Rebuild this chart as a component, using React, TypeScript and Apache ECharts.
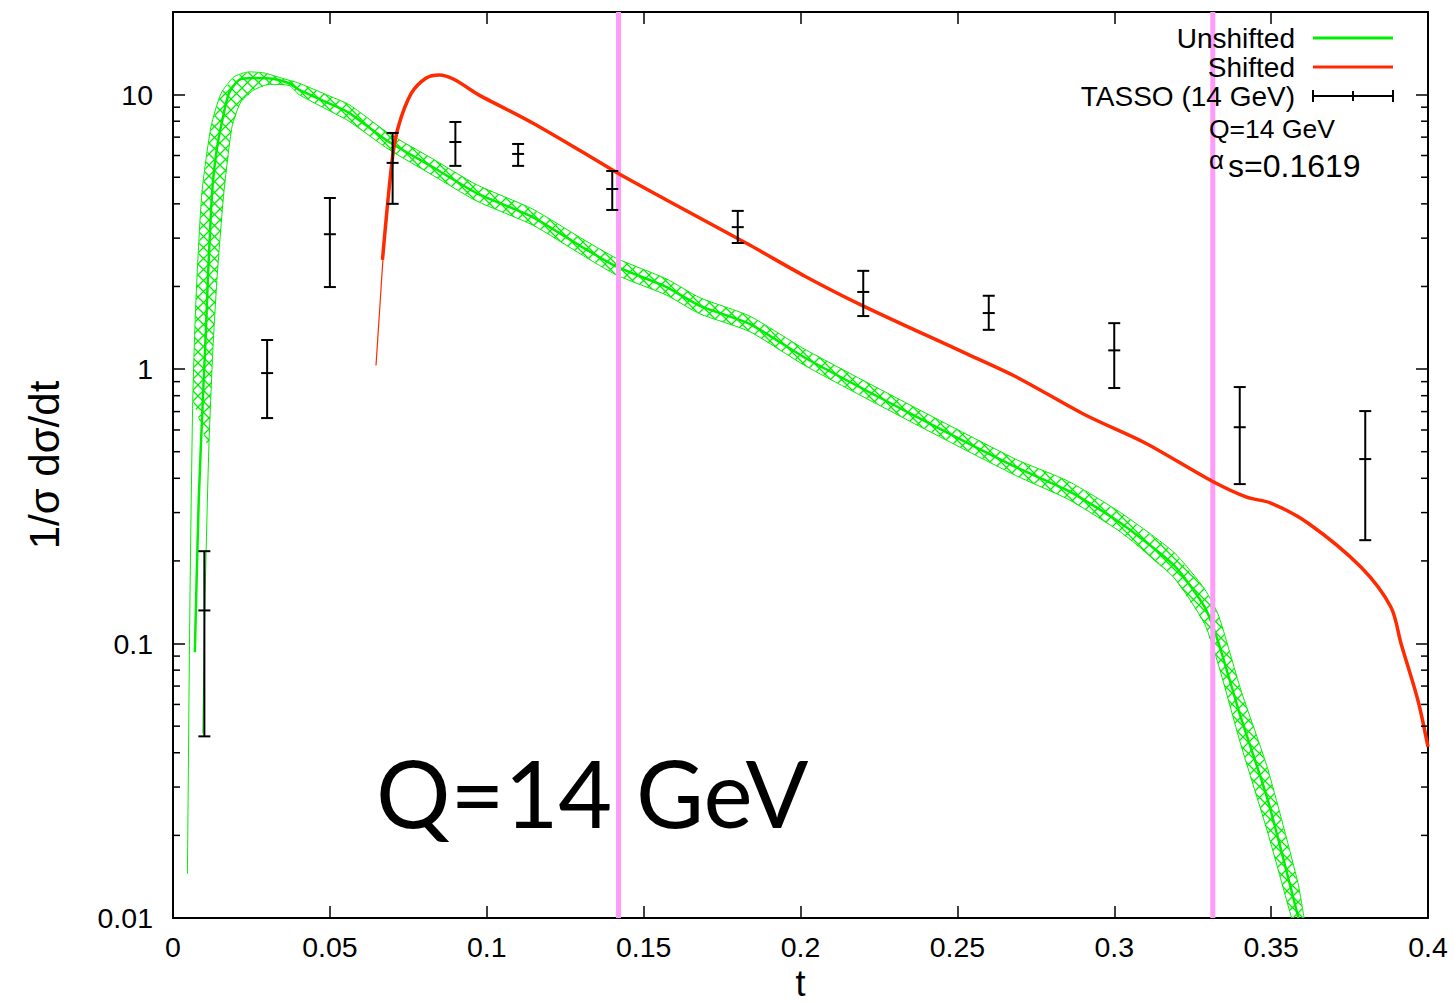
import React, { useEffect, useRef } from "react";
import * as echarts from "echarts";

// ---------- data ----------
// Unshifted (green) band: central value, upper/left edge, lower/right edge  [t, 1/σ dσ/dt]
const unshiftedCentral: [number, number][] = [
  [0.00696, 0.093], [0.0082, 0.333], [0.0095, 0.77], [0.0105, 1.39], [0.0111, 2.11],
  [0.01245, 4.38], [0.0137, 6.03], [0.01526, 7.63], [0.0178, 10.1], [0.021, 11.3],
  [0.0258, 11.5], [0.0322, 11.4], [0.037, 11.0], [0.0402, 10.4], [0.0497, 9.3],
  [0.0561, 8.58], [0.0689, 6.72], [0.0826, 5.46], [0.0967, 4.38], [0.1146, 3.58],
  [0.1305, 2.78], [0.1414, 2.36], [0.1573, 1.99], [0.1679, 1.7], [0.1838, 1.46],
  [0.2014, 1.1], [0.2349, 0.69], [0.2685, 0.44], [0.2854, 0.36], [0.302, 0.275],
  [0.319, 0.193], [0.3288, 0.136], [0.3333, 0.1], [0.3403, 0.054], [0.3489, 0.027],
  [0.3587, 0.01],
];
const unshiftedUpper: [number, number][] = [
  [0.0046, 0.0145], [0.0054, 0.144], [0.0063, 0.77], [0.0073, 1.78], [0.0092, 4.38],
  [0.0121, 7.63], [0.0153, 10.1], [0.0194, 11.6], [0.0242, 12.1], [0.029, 12.0],
  [0.0345, 11.5], [0.0402, 11.0], [0.0497, 9.9], [0.0561, 9.2], [0.0689, 7.2],
  [0.0826, 5.85], [0.0967, 4.7], [0.1146, 3.83], [0.1305, 2.98], [0.1414, 2.53],
  [0.1573, 2.13], [0.1679, 1.82], [0.1838, 1.56], [0.2014, 1.18], [0.2349, 0.74],
  [0.2685, 0.47], [0.2854, 0.39], [0.302, 0.3], [0.319, 0.215], [0.3288, 0.158],
  [0.3333, 0.126], [0.3403, 0.068], [0.3489, 0.035], [0.3585, 0.0135], [0.3605, 0.01],
];
const unshiftedLower: [number, number][] = [
  [0.0095, 0.047], [0.0102, 0.144], [0.0114, 0.507], [0.0127, 1.17], [0.014, 2.11],
  [0.0162, 4.38], [0.0188, 7.63], [0.0216, 9.4], [0.0258, 10.4], [0.0306, 10.9],
  [0.037, 10.8], [0.0402, 10.0], [0.0497, 8.75], [0.0561, 8.0], [0.0689, 6.3],
  [0.0826, 5.1], [0.0967, 4.1], [0.1146, 3.35], [0.1305, 2.6], [0.1414, 2.2],
  [0.1573, 1.86], [0.1679, 1.59], [0.1838, 1.37], [0.2014, 1.03], [0.2349, 0.645],
  [0.2685, 0.41], [0.2854, 0.335], [0.302, 0.255], [0.319, 0.174], [0.3288, 0.118],
  [0.3333, 0.083], [0.3403, 0.043], [0.3489, 0.0205], [0.3565, 0.01],
];

// Shifted (red) curve
const shiftedCentral: [number, number][] = [
  [0.06676, 2.5], [0.06986, 5.78], [0.07178, 7.62], [0.07593, 10.1], [0.08072, 11.5],
  [0.08487, 11.8], [0.0986, 9.81], [0.1146, 7.88], [0.1305, 6.18], [0.1417, 5.18],
  [0.1573, 4.13], [0.1838, 2.83], [0.2014, 2.18], [0.2199, 1.7], [0.2518, 1.153],
  [0.2685, 0.94], [0.2908, 0.68], [0.31, 0.537], [0.3311, 0.391], [0.3422, 0.3415],
  [0.3499, 0.325], [0.3617, 0.275], [0.3786, 0.19], [0.3882, 0.1356], [0.3914, 0.1],
  [0.3968, 0.062], [0.4, 0.042],
];
const shiftedLowerEdge: [number, number][] = [
  [0.0647, 1.03], [0.0658, 1.6], [0.0672, 2.8], [0.0688, 4.6], [0.0705, 6.3],
  [0.0728, 8.2], [0.0762, 10.2],
];

// TASSO (14 GeV) data with errors
const tassoT = [0.01, 0.03, 0.05, 0.07, 0.09, 0.11, 0.14, 0.18, 0.22, 0.26, 0.3, 0.34, 0.38];
const tassoVal = [0.132, 0.967, 3.1, 5.64, 6.72, 6.08, 4.53, 3.29, 1.91, 1.6, 1.17, 0.614, 0.47];
const tassoLow = [0.0459, 0.663, 1.99, 4.0, 5.5, 5.5, 3.8, 2.88, 1.56, 1.39, 0.853, 0.381, 0.238];
const tassoHigh = [0.217, 1.276, 4.2, 7.25, 7.95, 6.61, 5.27, 3.77, 2.28, 1.85, 1.47, 0.86, 0.703];

// vertical markers (t)
const markerT = [0.142, 0.3314];

// axes
const xTickLabels = ["0", "0.05", "0.1", "0.15", "0.2", "0.25", "0.3", "0.35", "0.4"];
const yTickLabels = ["0.01", "0.1", "1", "10"];
const yMinorTicks = [
  0.02, 0.03, 0.04, 0.05, 0.06, 0.07, 0.08, 0.09,
  0.2, 0.3, 0.4, 0.5, 0.6, 0.7, 0.8, 0.9,
  2, 3, 4, 5, 6, 7, 8, 9,
];

const FONT = '"Liberation Sans", Arial, Helvetica, sans-serif';
const GREEN = "#00ee00";
const RED = "#ff2a00";
const MAGENTA = "#ff9cfa";
const W = 1454;
const H = 1005;

function makeHatch(): any {
  const s = 11;
  const c = document.createElement("canvas");
  c.width = s;
  c.height = s;
  const ctx = c.getContext("2d");
  if (ctx) {
    ctx.strokeStyle = GREEN;
    ctx.lineWidth = 1.3;
    ctx.beginPath();
    ctx.moveTo(0, 0);
    ctx.lineTo(s, s);
    ctx.moveTo(s, 0);
    ctx.lineTo(0, s);
    ctx.stroke();
  }
  return { image: c, repeat: "repeat" };
}

export default function App() {
  const ref = useRef<HTMLDivElement>(null);

  useEffect(() => {
    if (!ref.current) return;
    const chart = echarts.init(ref.current, undefined, { renderer: "svg", width: W, height: H });
    const hatch = makeHatch();

    const text = (t: string, x: number, y: number, size: number, align: string, family = FONT) => ({
      type: "text",
      x,
      y,
      z: 100,
      style: {
        text: t,
        fill: "#000",
        fontSize: size,
        fontFamily: family,
        align,
        textAlign: align,
        verticalAlign: "middle",
        textVerticalAlign: "middle",
      },
    });
    const seg = (x1: number, y1: number, x2: number, y2: number, stroke: string, w: number) => ({
      type: "line",
      z: 100,
      shape: { x1, y1, x2, y2 },
      style: { stroke, lineWidth: w },
    });

    const frameAxisLine = { show: true, onZero: false, lineStyle: { color: "#000", width: 2 } };
    const majorTick = { show: true, inside: true, length: 12, lineStyle: { color: "#000", width: 1.5 } };

    const option: any = {
      animation: false,
      backgroundColor: "#fff",
      grid: { left: 173, right: 26, top: 12, bottom: 87, containLabel: false, outerBoundsMode: "none" },
      xAxis: [
        {
          type: "value",
          min: 0,
          max: 0.4,
          interval: 0.05,
          position: "bottom",
          axisLine: frameAxisLine,
          axisTick: majorTick,
          axisLabel: {
            show: true,
            color: "#000",
            fontSize: 28.5,
            fontFamily: FONT,
            margin: 14,
            formatter: (v: number) => xTickLabels[Math.round(v / 0.05)] ?? "",
          },
          splitLine: { show: false },
          name: "t",
          nameLocation: "middle",
          nameGap: 40,
          nameTextStyle: { color: "#000", fontSize: 36, lineHeight: 36, fontFamily: FONT },
        },
        {
          type: "value",
          min: 0,
          max: 0.4,
          interval: 0.05,
          position: "top",
          axisLine: frameAxisLine,
          axisTick: majorTick,
          axisLabel: { show: false },
          splitLine: { show: false },
        },
      ],
      yAxis: [
        {
          type: "log",
          logBase: 10,
          min: 0.01,
          max: 20,
          position: "left",
          axisLine: frameAxisLine,
          axisTick: majorTick,
          axisLabel: {
            show: true,
            color: "#000",
            fontSize: 28.5,
            fontFamily: FONT,
            margin: 20,
            formatter: (v: number) => {
              const e = Math.log10(v);
              const r = Math.round(e);
              if (Math.abs(e - r) > 1e-6) return "";
              return yTickLabels[r + 2] ?? "";
            },
          },
          splitLine: { show: false },
          name: "1/σ dσ/dt",
          nameLocation: "middle",
          nameRotate: 90,
          nameGap: 108,
          nameTextStyle: { color: "#000", fontSize: 42, fontFamily: FONT },
        },
        {
          type: "log",
          logBase: 10,
          min: 0.01,
          max: 20,
          position: "right",
          axisLine: frameAxisLine,
          axisTick: majorTick,
          axisLabel: { show: false },
          splitLine: { show: false },
        },
      ],
      series: [
        {
          // y minor ticks on left and right frame
          type: "custom",
          name: "minorTicks",
          silent: true,
          z: 5,
          data: yMinorTicks.map((v) => [0.2, v]),
          encode: { x: 0, y: 1 },
          renderItem: (_p: any, api: any) => {
            const v = api.value(1);
            const l = api.coord([0, v]);
            const r = api.coord([0.4, v]);
            return {
              type: "group",
              children: [
                { type: "line", shape: { x1: l[0], y1: l[1], x2: l[0] + 7, y2: l[1] }, style: { stroke: "#000", lineWidth: 1.5 } },
                { type: "line", shape: { x1: r[0], y1: r[1], x2: r[0] - 7, y2: r[1] }, style: { stroke: "#000", lineWidth: 1.5 } },
              ],
            };
          },
        },
        {
          // hatched band between upper and lower edge of unshifted
          type: "custom",
          name: "Unshifted band",
          silent: true,
          z: 1,
          clip: true,
          data: [[0.2, 1]],
          encode: { x: 0, y: 1 },
          renderItem: (_p: any, api: any) => {
            const pts: number[][] = [];
            const visible = (p: [number, number]) => p[1] >= 0.25 || p[0] > 0.1;
            for (const p of unshiftedUpper) if (visible(p)) pts.push(api.coord(p));
            for (let i = unshiftedLower.length - 1; i >= 0; i--) {
              if (visible(unshiftedLower[i])) pts.push(api.coord(unshiftedLower[i]));
            }
            return { type: "polygon", shape: { points: pts }, style: { fill: hatch, stroke: "none" } };
          },
        },
        {
          type: "line",
          name: "Unshifted upper",
          data: unshiftedUpper,
          showSymbol: false,
          smooth: 0.2,
          z: 2,
          lineStyle: { color: GREEN, width: 1 },
          silent: true,
        },
        {
          type: "line",
          name: "Unshifted lower",
          data: unshiftedLower,
          showSymbol: false,
          smooth: 0.2,
          z: 2,
          lineStyle: { color: GREEN, width: 1 },
          silent: true,
        },
        {
          type: "line",
          name: "Unshifted",
          data: unshiftedCentral,
          showSymbol: false,
          smooth: 0.2,
          z: 2,
          lineStyle: { color: GREEN, width: 2.5 },
          silent: true,
        },
        {
          // vertical magenta markers
          type: "custom",
          name: "markers",
          silent: true,
          z: 3,
          data: markerT.map((t) => [t, 1]),
          encode: { x: 0, y: 1 },
          renderItem: (_p: any, api: any) => {
            const t = api.value(0);
            const top = api.coord([t, 20]);
            const bot = api.coord([t, 0.01]);
            return {
              type: "line",
              shape: { x1: top[0], y1: top[1], x2: bot[0], y2: bot[1] },
              style: { stroke: MAGENTA, lineWidth: 5 },
            };
          },
        },
        {
          type: "line",
          name: "Shifted edge",
          data: shiftedLowerEdge,
          showSymbol: false,
          smooth: 0.2,
          z: 4,
          lineStyle: { color: RED, width: 1.2 },
          silent: true,
        },
        {
          type: "line",
          name: "Shifted",
          data: shiftedCentral,
          showSymbol: false,
          smooth: 0.3,
          z: 4,
          lineStyle: { color: RED, width: 3.5 },
          silent: true,
        },
        {
          type: "custom",
          name: "TASSO (14 GeV)",
          silent: true,
          z: 6,
          data: tassoT.map((t, i) => [t, tassoVal[i], tassoLow[i], tassoHigh[i]]),
          encode: { x: 0, y: [1, 2, 3] },
          renderItem: (_p: any, api: any) => {
            const t = api.value(0);
            const c = api.coord([t, api.value(1)]);
            const lo = api.coord([t, api.value(2)]);
            const hi = api.coord([t, api.value(3)]);
            const st = { stroke: "#000", lineWidth: 2 };
            const x = c[0];
            return {
              type: "group",
              children: [
                { type: "line", shape: { x1: x, y1: lo[1], x2: x, y2: hi[1] }, style: st },
                { type: "line", shape: { x1: x - 6, y1: lo[1], x2: x + 6, y2: lo[1] }, style: st },
                { type: "line", shape: { x1: x - 6, y1: hi[1], x2: x + 6, y2: hi[1] }, style: st },
                { type: "line", shape: { x1: x - 6, y1: c[1], x2: x + 6, y2: c[1] }, style: st },
              ],
            };
          },
        },
      ],
      graphic: [
        text("Unshifted", 1295, 38, 28, "right"),
        seg(1313, 38, 1393, 38, GREEN, 3),
        text("Shifted", 1295, 67, 28, "right"),
        seg(1313, 67, 1393, 67, RED, 3),
        text("TASSO (14 GeV)", 1295, 96, 28, "right"),
        seg(1313, 96, 1393, 96, "#000", 2),
        seg(1313, 90, 1313, 102, "#000", 2),
        seg(1393, 90, 1393, 102, "#000", 2),
        seg(1353, 91, 1353, 101, "#000", 2),
        text("Q=14 GeV", 1209, 129, 26.5, "left"),
        text("α", 1209, 160, 26, "left"),
        text("s=0.1619", 1228, 166, 32, "left"),
        text("Q=14 GeV", 376, 792, 93, "left", "Lato, sans-serif"),
      ],
    };

    chart.setOption(option);
    return () => chart.dispose();
  }, []);

  return (
    <div
      ref={ref}
      style={{ position: "absolute", left: 0, top: 0, width: W, height: H, background: "#fff" }}
    />
  );
}
